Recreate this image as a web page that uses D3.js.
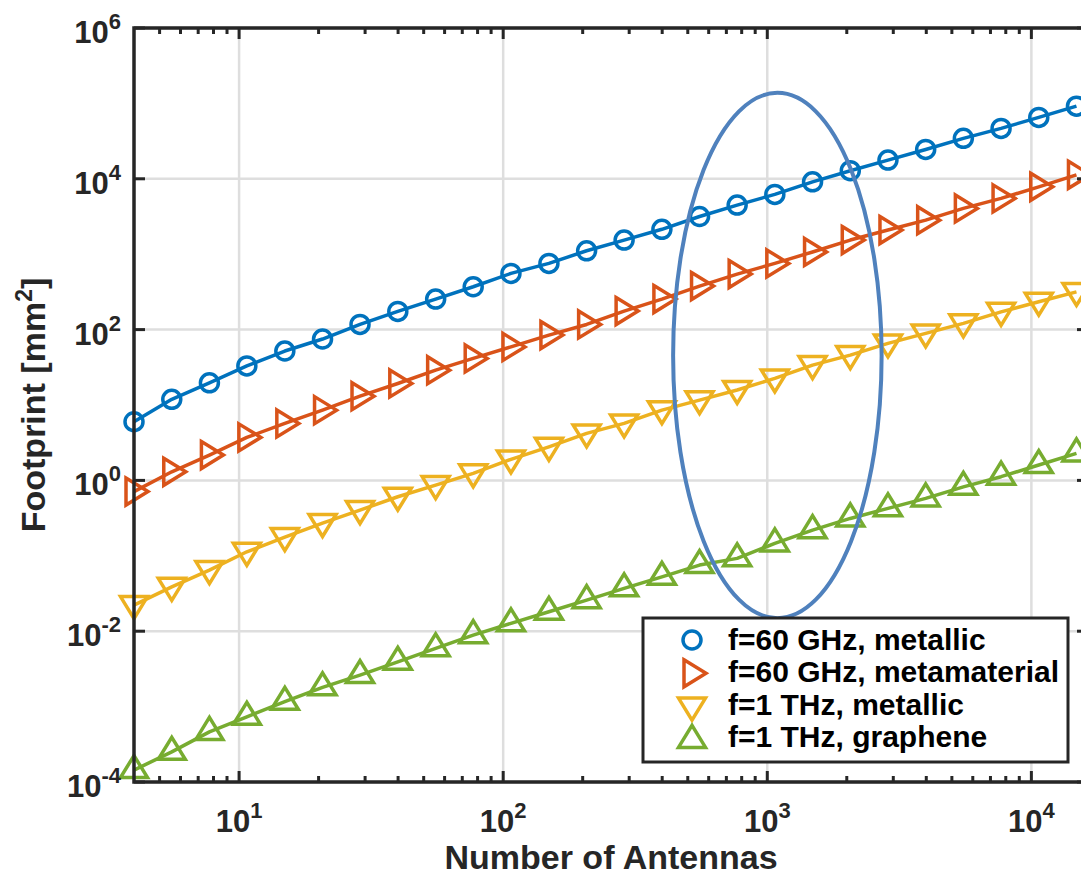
<!DOCTYPE html>
<html><head><meta charset="utf-8">
<script src="https://cdn.jsdelivr.net/npm/d3@7"></script>
<style>body{margin:0;background:#fff;overflow:hidden} svg{display:block}</style>
</head><body><svg id="c" width="1081" height="876"></svg>
<script>
// ---- data ----
const antennas = [4, 5.56, 7.72, 10.7, 14.9, 20.7, 28.7, 39.9, 55.5, 77.0, 107, 149, 207, 287, 399, 554, 769, 1068, 1484, 2062, 2864, 3979, 5527, 7678, 10666, 14817];
const metallic60GHz = [6.0, 11.9, 19.7, 33, 52, 75, 117, 174, 254, 370, 556, 755, 1110, 1540, 2140, 3160, 4480, 6210, 9120, 12800, 17700, 24500, 34400, 46600, 65200, 92000];
const metamaterial60GHz = [0.71, 1.30, 2.17, 3.72, 5.7, 8.55, 13.1, 19.3, 29, 41.5, 59, 84.5, 117, 176, 254, 378, 545, 755, 1070, 1540, 2090, 2830, 4050, 5500, 7830, 11300];
const metallic1THz = [0.0222, 0.0388, 0.0646, 0.113, 0.177, 0.272, 0.404, 0.607, 0.867, 1.24, 1.9, 2.79, 4.2, 5.7, 8.55, 11.6, 15.8, 22.5, 33.8, 45.9, 65.6, 89.1, 121, 172, 234, 316];
const graphene1THz = [0.000144, 0.000251, 0.000462, 0.000733, 0.00116, 0.0018, 0.00262, 0.00393, 0.00592, 0.00887, 0.0127, 0.0181, 0.0258, 0.037, 0.0526, 0.0753, 0.0925, 0.146, 0.219, 0.313, 0.426, 0.577, 0.822, 1.12, 1.6, 2.28];
const seriesNames = ["f=60 GHz, metallic", "f=60 GHz, metamaterial", "f=1 THz, metallic", "f=1 THz, graphene"];
const seriesColors = ["#0072BD", "#D95319", "#EDB120", "#77AC30"];
const seriesMarkers = ["circle", "right", "down", "up"];
const xDomain = [4, 16384];
const yDomain = [1e-4, 1e6];
const xTickValues = [10, 100, 1000, 10000];
const xTickExponents = ["1", "2", "3", "4"];
const yTickValues = [1e-4, 1e-2, 1, 1e2, 1e4, 1e6];
const yTickExponents = ["-4", "-2", "0", "2", "4", "6"];
const xTitle = "Number of Antennas";
const yTitle = "Footprint [mm";
const yTitleSup = "2";
// highlight ellipse extents (data units)
const ellipseXExtent = [440, 2710];
const ellipseYExtent = [0.0149, 138000];

// ---- layout ----
const L = 134, R = 1088, T = 28, B = 782;
const svg = d3.select("#c");
const x = d3.scaleLog().domain(xDomain).range([L, R]);
const y = d3.scaleLog().domain(yDomain).range([B, T]);
const axisColor = "#262626";
const font = "'Liberation Sans', Arial, Helvetica, sans-serif";

// grid
const grid = svg.append("g");
grid.selectAll("line.gx").data(xTickValues).join("line")
  .attr("x1", d => x(d)).attr("x2", d => x(d)).attr("y1", T).attr("y2", B)
  .attr("stroke", "#dedede").attr("stroke-width", 2.5);
grid.selectAll("line.gy").data(yTickValues).join("line")
  .attr("y1", d => y(d)).attr("y2", d => y(d)).attr("x1", L).attr("x2", R)
  .attr("stroke", "#dedede").attr("stroke-width", 2.5);

// series
const series = [metallic60GHz, metamaterial60GHz, metallic1THz, graphene1THz];
const markerPath = {
  circle: "M9,0A9,9 0 1,1 -9,0A9,9 0 1,1 9,0Z",
  right: "M-8,-13.5L14,0L-8,13.5Z",
  down: "M-13.5,-8.5L13.5,-8.5L0,13.5Z",
  up: "M-13.5,7.5L13.5,7.5L0,-14.5Z"
};
const line = d3.line().x(d => x(d[0])).y(d => y(d[1]));
series.forEach((vals, i) => {
  const pts = antennas.map((a, j) => [a, vals[j]]);
  const g = svg.append("g");
  g.append("path").attr("d", line(pts)).attr("fill", "none")
    .attr("stroke", seriesColors[i]).attr("stroke-width", 3.5).attr("stroke-linejoin", "round");
  g.selectAll("path.m").data(pts).join("path")
    .attr("transform", d => `translate(${x(d[0])},${y(d[1])})`)
    .attr("d", markerPath[seriesMarkers[i]])
    .attr("fill", "none").attr("stroke", seriesColors[i]).attr("stroke-width", 3.5);
});

// axes box
svg.append("rect").attr("x", L).attr("y", T).attr("width", R - L).attr("height", B - T)
  .attr("fill", "none").attr("stroke", axisColor).attr("stroke-width", 3.5);

// ticks
const minorX = x.ticks().filter(v => !xTickValues.includes(v) && v > xDomain[0] && v < xDomain[1]);
const tk = svg.append("g").attr("stroke", axisColor).attr("stroke-width", 3);
xTickValues.forEach(v => {
  tk.append("line").attr("x1", x(v)).attr("x2", x(v)).attr("y1", B).attr("y2", B - 11);
  tk.append("line").attr("x1", x(v)).attr("x2", x(v)).attr("y1", T).attr("y2", T + 11);
});
minorX.forEach(v => {
  tk.append("line").attr("x1", x(v)).attr("x2", x(v)).attr("y1", B).attr("y2", B - 6);
  tk.append("line").attr("x1", x(v)).attr("x2", x(v)).attr("y1", T).attr("y2", T + 6);
});
yTickValues.forEach(v => {
  tk.append("line").attr("y1", y(v)).attr("y2", y(v)).attr("x1", L).attr("x2", L + 11);
  tk.append("line").attr("y1", y(v)).attr("y2", y(v)).attr("x1", R).attr("x2", R - 11);
});

// tick labels
const xl = svg.append("g").attr("font-family", font).attr("font-weight", "bold").attr("fill", axisColor);
xTickValues.forEach((v, i) => {
  const t = xl.append("text").attr("x", x(v)).attr("y", 832).attr("text-anchor", "middle").attr("font-size", 31);
  t.append("tspan").text("10");
  t.append("tspan").attr("dy", -14).attr("font-size", 22).text(xTickExponents[i]);
});
yTickValues.forEach((v, i) => {
  const t = xl.append("text").attr("x", 121).attr("y", y(v) + 15).attr("text-anchor", "end").attr("font-size", 31);
  t.append("tspan").text("10");
  t.append("tspan").attr("dy", -14).attr("font-size", 22).text(yTickExponents[i]);
});

// axis titles
xl.append("text").attr("x", (L + R) / 2).attr("y", 869).attr("text-anchor", "middle")
  .attr("font-size", 34).text(xTitle);
const yt = xl.append("text").attr("transform", `translate(45,${(T + B) / 2}) rotate(-90)`)
  .attr("text-anchor", "middle").attr("font-size", 34);
yt.append("tspan").text(yTitle);
yt.append("tspan").attr("dy", -13).attr("font-size", 23).text(yTitleSup);
yt.append("tspan").attr("dy", 13).text("]");

// ellipse annotation
const ex0 = x(ellipseXExtent[0]), ex1 = x(ellipseXExtent[1]);
const ey0 = y(ellipseYExtent[0]), ey1 = y(ellipseYExtent[1]);
svg.append("ellipse").attr("cx", (ex0 + ex1) / 2).attr("cy", (ey0 + ey1) / 2)
  .attr("rx", (ex1 - ex0) / 2).attr("ry", (ey0 - ey1) / 2)
  .attr("fill", "none").attr("stroke", "#4F81BD").attr("stroke-width", 4);

// legend
const lg = svg.append("g");
lg.append("rect").attr("x", 643).attr("y", 618).attr("width", 425).attr("height", 144)
  .attr("fill", "#fff").attr("stroke", axisColor).attr("stroke-width", 3);
seriesNames.forEach((n, i) => {
  lg.append("path").attr("transform", `translate(692,${640 + 33.3 * i})`)
    .attr("d", markerPath[seriesMarkers[i]]).attr("fill", "none")
    .attr("stroke", seriesColors[i]).attr("stroke-width", 3.5);
  lg.append("text").attr("x", 728).attr("y", 650 + 32.3 * i)
    .attr("font-family", font).attr("font-weight", "bold").attr("font-size", 30)
    .attr("fill", "#000").text(n);
});
</script></body></html>
